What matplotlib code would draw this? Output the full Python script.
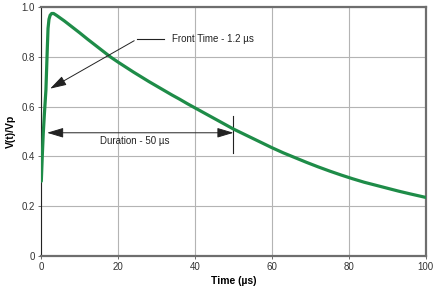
import numpy as np
import matplotlib
matplotlib.use('Agg')
import matplotlib.pyplot as plt

# values
time_us = [0, 0.25, 0.5, 0.8, 1.2, 1.4, 1.55, 1.75, 2.0, 2.3, 2.7, 3.2, 4, 5, 6, 7, 8,
           9, 10, 12, 14, 16, 18, 20, 22, 24, 26, 28, 30, 32, 34, 36, 38, 40, 42, 44,
           46, 48, 50, 52, 54, 56, 58, 60, 63, 66, 69, 72, 75, 78, 81, 84, 87, 90,
           93, 96, 100]
v_norm = [0.30, 0.40, 0.49, 0.57, 0.667, 0.76, 0.83, 0.915, 0.952, 0.968, 0.975,
          0.975, 0.967, 0.956, 0.945, 0.933, 0.921, 0.909, 0.897, 0.872, 0.848,
          0.824, 0.80, 0.779, 0.759, 0.739, 0.72, 0.701, 0.683, 0.665, 0.647, 0.63,
          0.612, 0.595, 0.578, 0.561, 0.544, 0.527, 0.51, 0.495, 0.48, 0.465, 0.45,
          0.435, 0.414, 0.395, 0.376, 0.358, 0.341, 0.325, 0.31, 0.296, 0.284,
          0.272, 0.26, 0.249, 0.235]

x_ticks = [0, 20, 40, 60, 80, 100]
y_ticks = [0, 0.2, 0.4, 0.6, 0.8, 1.0]
y_labels = ['0', '0.2', '0.4', '0.6', '0.8', '1.0']

plt.rcParams['font.family'] = ['Arial', 'Liberation Sans', 'DejaVu Sans']

fig = plt.figure(figsize=(4.33, 2.91), dpi=100)
ax = fig.add_axes([0.0954, 0.121, 0.8876, 0.854])

ax.plot(time_us, v_norm, color='#1e8c48', lw=2.3, solid_capstyle='round',
        solid_joinstyle='round', zorder=3)

ax.set_xlim(0, 100)
ax.set_ylim(0, 1.0)
ax.set_xticks(x_ticks)
ax.set_yticks(y_ticks)
ax.set_yticklabels(y_labels)
ax.grid(True, color='#b4b4b4', lw=0.8)
ax.tick_params(labelsize=7, colors='#555555', length=2.5, width=0.6, pad=2)
for lab in ax.get_xticklabels() + ax.get_yticklabels():
    lab.set_color('#333333')

ax.spines['left'].set_color('#222222')
ax.spines['left'].set_linewidth(0.8)
for s in ['top', 'right', 'bottom']:
    ax.spines[s].set_color('#6e6e6e')
    ax.spines[s].set_linewidth(1.6)

ax.set_xlabel('Time (µs)', fontsize=7.5, fontweight='bold', labelpad=3)
ax.set_ylabel('V(t)/Vp', fontsize=7.5, fontweight='bold', labelpad=4)

# front time annotation
ax.annotate('', xy=(1.67, 0.667), xytext=(24.8, 0.871),
            arrowprops=dict(arrowstyle='-|>,head_length=1.0,head_width=0.3',
                            color='#222222', lw=0.7), zorder=4)
ax.plot([24.8, 32.0], [0.871, 0.871], color='#222222', lw=0.8)
ax.text(34.0, 0.871, 'Front Time - 1.2 µs', fontsize=7, va='center', color='#222222')

# duration annotation
ax.annotate('', xy=(1.5, 0.495), xytext=(50, 0.495),
            arrowprops=dict(arrowstyle='<|-|>,head_length=1.0,head_width=0.3',
                            color='#222222', lw=0.7, shrinkA=0, shrinkB=0), zorder=4)
ax.plot([50, 50], [0.415, 0.562], color='#222222', lw=0.8)
ax.text(15.3, 0.46, 'Duration - 50 µs', fontsize=7, va='center', color='#222222')

fig.savefig('out.png', dpi=100)
